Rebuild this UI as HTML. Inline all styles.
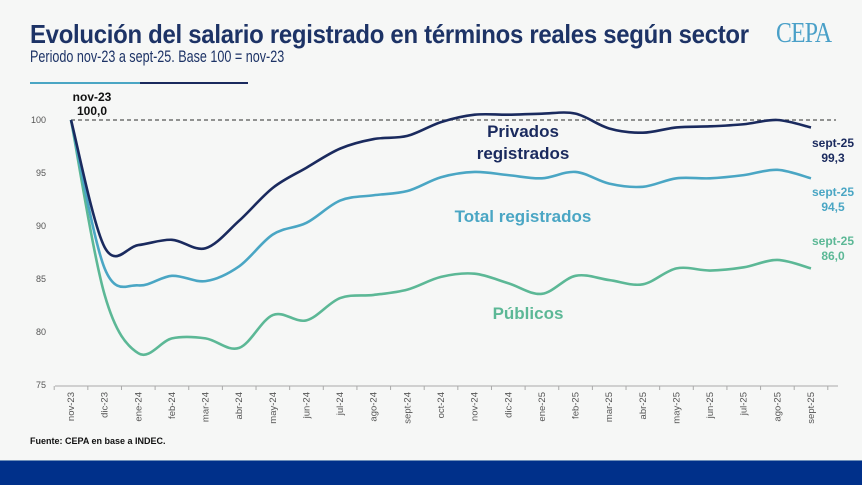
<!DOCTYPE html>
<html><head><meta charset="utf-8"><style>
body{margin:0;width:862px;height:484px;background:#f6f7f6;overflow:hidden;font-family:"Liberation Sans",sans-serif;position:relative}
.t{position:absolute;left:30px;top:19px;font-size:26px;font-weight:bold;color:#1d3366;letter-spacing:-0.3px;transform:scaleX(0.92);transform-origin:0 0;white-space:nowrap}
.s{position:absolute;left:30px;top:47px;font-size:17px;color:#1d3366;transform:scaleX(0.74);transform-origin:0 0;white-space:nowrap}
.logo{position:absolute;left:776px;top:18px;font-family:"Liberation Serif",serif;font-size:28px;color:#4aa0c8;letter-spacing:-1px;transform:scaleX(0.85);transform-origin:0 0}
.foot{position:absolute;left:0;top:460px;width:862px;height:24px;background:#00308a;border-top:1px solid #6f8fb8}
.src{position:absolute;left:30px;top:436px;font-size:9px;font-weight:bold;color:#111}
</style></head><body>
<div class="t">Evolución del salario registrado en términos reales según sector</div>
<div class="s">Periodo nov-23 a sept-25. Base 100 = nov-23</div>
<div class="logo">CEPA</div>
<div class="src">Fuente: CEPA en base a INDEC.</div>
<div class="foot"></div>
<svg id="c" width="862" height="484" style="position:absolute;left:0;top:0" font-family="Liberation Sans, sans-serif">
<line x1="30" y1="83" x2="140" y2="83" stroke="#4aa6c4" stroke-width="2"/>
<line x1="140" y1="83" x2="248" y2="83" stroke="#1a2a5e" stroke-width="2"/>
<g font-size="9" fill="#555" text-anchor="end">
<text x="46" y="123">100</text><text x="46" y="176">95</text><text x="46" y="229">90</text>
<text x="46" y="282">85</text><text x="46" y="335">80</text><text x="46" y="388">75</text></g>
<line x1="71" y1="120" x2="836" y2="120" stroke="#555" stroke-width="1.2" stroke-dasharray="4,3"/>
<line x1="55" y1="386" x2="838" y2="386" stroke="#aaa" stroke-width="1"/>
<g id="ticks"></g><g id="lines"></g>
<g font-weight="bold" text-anchor="middle">
<text x="92" y="101" font-size="12" fill="#111">nov-23</text>
<text x="92" y="115" font-size="12" fill="#111">100,0</text>
<text x="523" y="137" font-size="17" fill="#1a2a5e">Privados</text>
<text x="523" y="159" font-size="17" fill="#1a2a5e">registrados</text>
<text x="523" y="222" font-size="17" fill="#4aa6c4">Total registrados</text>
<text x="528" y="319" font-size="17" fill="#5cb896">Públicos</text>
<text x="833" y="147" font-size="12" fill="#1a2a5e">sept-25</text><text x="833" y="162" font-size="12" fill="#1a2a5e">99,3</text>
<text x="833" y="196" font-size="12" fill="#4aa6c4">sept-25</text><text x="833" y="211" font-size="12" fill="#4aa6c4">94,5</text>
<text x="833" y="245" font-size="12" fill="#5cb896">sept-25</text><text x="833" y="260" font-size="12" fill="#5cb896">86,0</text>
</g>
</svg>
<script>
var L=["nov-23","dic-23","ene-24","feb-24","mar-24","abr-24","may-24","jun-24","jul-24","ago-24","sept-24","oct-24","nov-24","dic-24","ene-25","feb-25","mar-25","abr-25","may-25","jun-25","jul-25","ago-25","sept-25"];
var P=[100,88.0,88.2,88.7,87.9,90.5,93.6,95.5,97.3,98.2,98.5,99.8,100.5,100.5,100.6,100.6,99.2,98.8,99.3,99.4,99.6,100.0,99.3];
var T=[100,86.0,84.4,85.3,84.8,86.2,89.2,90.3,92.4,92.9,93.3,94.6,95.1,94.8,94.5,95.1,94.0,93.7,94.5,94.5,94.8,95.3,94.5];
var U=[100,83.5,78.0,79.4,79.4,78.5,81.6,81.1,83.2,83.5,84.0,85.2,85.5,84.6,83.6,85.3,84.9,84.5,86.0,85.8,86.1,86.8,86.0];
function X(i){return 71+i*(811-71)/22}function Y(v){return 120+(100-v)*10.6}
var tk=document.getElementById("ticks"),ln=document.getElementById("lines"),h="";
for(var i=0;i<23;i++){var x=X(i);h+='<line x1="'+(x-16.8)+'" y1="386" x2="'+(x-16.8)+'" y2="390" stroke="#aaa"/>';
h+='<text transform="translate('+(x+3)+',392) rotate(-90)" text-anchor="end" font-size="9.5" fill="#555">'+L[i]+'</text>';}
h+='<line x1="'+(X(22)+16.8)+'" y1="386" x2="'+(X(22)+16.8)+'" y2="390" stroke="#aaa"/>';
tk.innerHTML=h;
function path(d){var p=d.map(function(v,i){return[X(i),Y(v)]});var s="M"+p[0][0]+","+p[0][1];
for(var i=0;i<p.length-1;i++){var a=p[i-1]||p[i],b=p[i],c=p[i+1],e=p[i+2]||c;
s+=" C"+(b[0]+(c[0]-a[0])/6)+","+(b[1]+(c[1]-a[1])/6)+" "+(c[0]-(e[0]-b[0])/6)+","+(c[1]-(e[1]-b[1])/6)+" "+c[0]+","+c[1];}return s;}
ln.innerHTML='<path d="'+path(U)+'" fill="none" stroke="#5cb896" stroke-width="2.6"/>'+
'<path d="'+path(T)+'" fill="none" stroke="#4aa6c4" stroke-width="2.6"/>'+
'<path d="'+path(P)+'" fill="none" stroke="#1a2a5e" stroke-width="2.6"/>';
</script>
</body></html>
